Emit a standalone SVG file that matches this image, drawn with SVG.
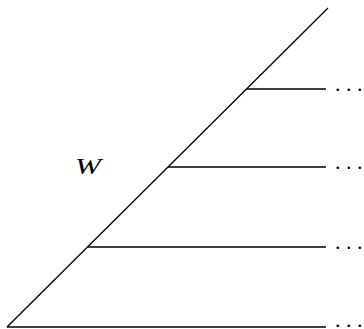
<svg xmlns="http://www.w3.org/2000/svg" width="364" height="329" viewBox="0 0 364 329">
<style>
.ln{stroke:#000;stroke-width:1.3;fill:none}
.dots{font-family:"Liberation Serif",serif;font-size:22px;fill:#000}
.lbl{font-family:"Liberation Serif",serif;font-size:23px;font-style:italic;fill:#000}
</style>
<rect width="364" height="329" fill="#fff"/>
<g id="connectors">
<line class="ln" x1="7" y1="327" x2="328" y2="8"/>
<line class="ln" x1="7" y1="327" x2="326" y2="327"/>
<line class="ln" x1="87.5" y1="247" x2="326" y2="247"/>
<line class="ln" x1="168" y1="167" x2="326" y2="167"/>
<line class="ln" x1="246.5" y1="89" x2="326" y2="89"/>
</g>
<g id="dots1"><text class="dots" x="335" y="91">. . .</text></g>
<g id="dots2"><text class="dots" x="335" y="169">. . .</text></g>
<g id="dots3"><text class="dots" x="335" y="249">. . .</text></g>
<g id="dots4"><text class="dots" x="335" y="327">. . .</text></g>
<g id="W"><text class="lbl" x="75" y="174" textLength="26" lengthAdjust="spacingAndGlyphs">W</text></g>
</svg>
